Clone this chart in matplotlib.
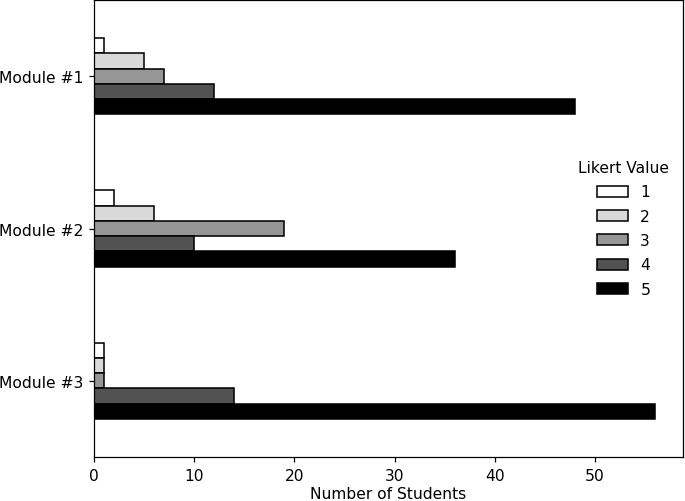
import matplotlib
matplotlib.use("Agg")
import matplotlib.pyplot as plt
import numpy as np

modules = ["Module #1", "Module #2", "Module #3"]
likert = ["1", "2", "3", "4", "5"]
counts = {
    "1": [1, 2, 1],
    "2": [5, 6, 1],
    "3": [7, 19, 1],
    "4": [12, 10, 14],
    "5": [48, 36, 56],
}
colors = ["#ffffff", "#d9d9d9", "#969696", "#525252", "#000000"]

dpi = 112
fig = plt.figure(figsize=(685 / dpi, 502 / dpi), dpi=dpi)
ax = fig.add_axes([94 / 685, 44 / 502, 589 / 685, 457 / 502])

y = np.arange(len(modules))
h = 0.1
for i, key in enumerate(likert):
    off = (i - 2) * h
    ax.barh(y + off, counts[key], height=h, color=colors[i],
            edgecolor="black", linewidth=1, label=key)

ax.set_yticks(y)
ax.set_yticklabels(modules)
ax.set_ylim(-0.5, 2.5)
ax.invert_yaxis()
ax.set_xlabel("Number of Students", labelpad=2)
ax.legend(title="Likert Value", loc="center right", frameon=False,
          labelspacing=0.6)

fig.savefig("out.png", dpi=dpi)
